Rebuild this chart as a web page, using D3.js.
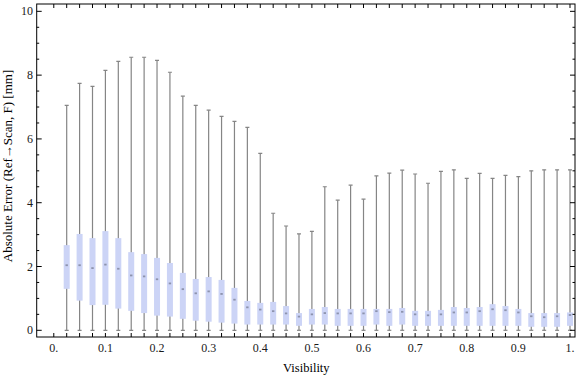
<!DOCTYPE html>
<html>
<head>
<meta charset="utf-8">
<script src="https://cdn.jsdelivr.net/npm/d3@7"></script>
<style>
  body { margin: 0; background: #fff; }
  text { font-family: "Liberation Serif", "DejaVu Serif", serif; }
</style>
</head>
<body>
<script>
// Chart size
const width = 576;
const height = 377;

// Data (one box per visibility bin)
const visibility = [0.025, 0.05, 0.075, 0.1, 0.125, 0.15, 0.175, 0.2, 0.225, 0.25,
  0.275, 0.3, 0.325, 0.35, 0.375, 0.4, 0.425, 0.45, 0.475, 0.5,
  0.525, 0.55, 0.575, 0.6, 0.625, 0.65, 0.675, 0.7, 0.725, 0.75,
  0.775, 0.8, 0.825, 0.85, 0.875, 0.9, 0.925, 0.95, 0.975, 1.0];
const maxVals = [7.05, 7.74, 7.65, 8.15, 8.43, 8.56, 8.56, 8.46, 8.09, 7.34,
  7.05, 6.90, 6.71, 6.55, 6.36, 5.55, 3.67, 3.27, 3.02, 3.10,
  4.50, 4.08, 4.55, 4.11, 4.84, 4.93, 5.02, 4.90, 4.61, 4.98,
  5.03, 4.76, 4.92, 4.76, 4.86, 4.82, 5.00, 5.03, 5.03, 5.03];
const q3Vals = [2.67, 3.02, 2.89, 3.11, 2.89, 2.45, 2.39, 2.27, 2.11, 1.80,
  1.61, 1.67, 1.58, 1.33, 0.92, 0.86, 0.89, 0.76, 0.54, 0.67,
  0.73, 0.67, 0.67, 0.67, 0.67, 0.67, 0.70, 0.61, 0.61, 0.64,
  0.73, 0.70, 0.73, 0.82, 0.76, 0.67, 0.54, 0.54, 0.54, 0.56];
const medianVals = [2.04, 2.04, 1.95, 2.06, 1.93, 1.72, 1.69, 1.60, 1.47, 1.29,
  1.16, 1.22, 1.14, 0.96, 0.72, 0.65, 0.60, 0.53, 0.43, 0.50,
  0.54, 0.53, 0.53, 0.53, 0.60, 0.57, 0.58, 0.50, 0.47, 0.50,
  0.56, 0.56, 0.60, 0.66, 0.63, 0.56, 0.44, 0.41, 0.44, 0.48];
const q1Vals = [1.30, 0.93, 0.79, 0.80, 0.68, 0.61, 0.54, 0.46, 0.43, 0.36,
  0.30, 0.27, 0.24, 0.21, 0.18, 0.18, 0.18, 0.18, 0.14, 0.18,
  0.18, 0.14, 0.14, 0.14, 0.18, 0.14, 0.18, 0.14, 0.14, 0.14,
  0.14, 0.14, 0.14, 0.14, 0.14, 0.14, 0.11, 0.11, 0.11, 0.14];
const minVals = visibility.map(() => 0);

// Tick values
const xLabelTicks = [0, 0.1, 0.2, 0.3, 0.4, 0.5, 0.6, 0.7, 0.8, 0.9, 1.0];
const xLabelText = ["0.", "0.1", "0.2", "0.3", "0.4", "0.5", "0.6", "0.7", "0.8", "0.9", "1."];
const yMajorTicks = [0, 2, 4, 6, 8, 10];
const yMinorTicks = [1, 3, 5, 7, 9, 0.5, 1.5, 2.5, 3.5, 4.5, 5.5, 6.5, 7.5, 8.5, 9.5];

const boxes = visibility.map((v, i) => ({
  x: v, min: minVals[i], q1: q1Vals[i], med: medianVals[i], q3: q3Vals[i], max: maxVals[i]
}));

// Frame geometry
const fLeft = 36.7, fRight = 575, fTop = 4, fBottom = 337;

const x = d3.scaleLinear().domain([-0.0331, 1.0097]).range([fLeft, fRight]);
const y = d3.scaleLinear().domain([-0.21, 10.23]).range([fBottom, fTop]);

const svg = d3.select("body").append("svg")
  .attr("width", width)
  .attr("height", height);

svg.append("defs").append("clipPath")
  .attr("id", "plotclip")
  .append("rect")
  .attr("x", fLeft).attr("y", fTop)
  .attr("width", fRight - fLeft).attr("height", fBottom - fTop);

const plot = svg.append("g").attr("clip-path", "url(#plotclip)");

const boxW = 6;
const capW = 4;
const whiskerColor = "#858585";

const g = plot.selectAll(".box")
  .data(boxes)
  .enter()
  .append("g")
  .attr("class", "box");

// whisker line
g.append("line")
  .attr("x1", d => x(d.x)).attr("x2", d => x(d.x))
  .attr("y1", d => y(d.min)).attr("y2", d => y(d.max))
  .attr("stroke", whiskerColor)
  .attr("stroke-width", 1.2);

// caps
g.append("line")
  .attr("x1", d => x(d.x) - capW / 2).attr("x2", d => x(d.x) + capW / 2)
  .attr("y1", d => y(d.max)).attr("y2", d => y(d.max))
  .attr("stroke", whiskerColor).attr("stroke-width", 1.2);
g.append("line")
  .attr("x1", d => x(d.x) - capW / 2).attr("x2", d => x(d.x) + capW / 2)
  .attr("y1", d => y(d.min)).attr("y2", d => y(d.min))
  .attr("stroke", whiskerColor).attr("stroke-width", 1.2);

// box
g.append("rect")
  .attr("x", d => x(d.x) - boxW / 2)
  .attr("y", d => y(d.q3))
  .attr("width", boxW)
  .attr("height", d => y(d.q1) - y(d.q3))
  .attr("fill", "#ccd4f6");

// median mark
g.append("rect")
  .attr("x", d => x(d.x) - 1.2)
  .attr("y", d => y(d.med) - 0.9)
  .attr("width", 2.4)
  .attr("height", 1.8)
  .attr("fill", "#8d93ad");

// Frame
const frame = svg.append("g")
  .attr("stroke", "#000")
  .attr("stroke-width", 1)
  .attr("fill", "none");

frame.append("rect")
  .attr("x", fLeft).attr("y", fTop)
  .attr("width", fRight - fLeft).attr("height", fBottom - fTop);

// x ticks at every box position plus 0 (bottom and top)
const xTickVals = [0].concat(visibility);
xTickVals.forEach(v => {
  frame.append("line")
    .attr("x1", x(v)).attr("x2", x(v))
    .attr("y1", fBottom).attr("y2", fBottom - 4);
  frame.append("line")
    .attr("x1", x(v)).attr("x2", x(v))
    .attr("y1", fTop).attr("y2", fTop + 4);
});

// y ticks (left and right)
yMajorTicks.forEach(v => {
  frame.append("line").attr("x1", fLeft).attr("x2", fLeft + 5).attr("y1", y(v)).attr("y2", y(v));
  frame.append("line").attr("x1", fRight).attr("x2", fRight - 5).attr("y1", y(v)).attr("y2", y(v));
});
yMinorTicks.forEach(v => {
  frame.append("line").attr("x1", fLeft).attr("x2", fLeft + 2.5).attr("y1", y(v)).attr("y2", y(v));
  frame.append("line").attr("x1", fRight).attr("x2", fRight - 2.5).attr("y1", y(v)).attr("y2", y(v));
});

// tick labels
svg.selectAll(".xlab")
  .data(xLabelTicks)
  .enter()
  .append("text")
  .attr("class", "xlab")
  .attr("x", d => x(d))
  .attr("y", 352)
  .attr("text-anchor", "middle")
  .style("font-size", "12px")
  .style("fill", "#1a1a1a")
  .text((d, i) => xLabelText[i]);

svg.selectAll(".ylab")
  .data(yMajorTicks)
  .enter()
  .append("text")
  .attr("class", "ylab")
  .attr("x", 33)
  .attr("y", d => y(d) + 4)
  .attr("text-anchor", "end")
  .style("font-size", "12px")
  .style("fill", "#1a1a1a")
  .text(d => d);

// axis titles
svg.append("text")
  .attr("x", (fLeft + fRight) / 2 + 0.5)
  .attr("y", 372)
  .attr("text-anchor", "middle")
  .style("font-size", "12.5px")
  .text("Visibility");

svg.append("text")
  .attr("transform", `translate(12, 166) rotate(-90)`)
  .attr("text-anchor", "middle")
  .style("font-size", "13px")
  .text("Absolute Error (Ref\u2192Scan, F) [mm]");
</script>
</body>
</html>
